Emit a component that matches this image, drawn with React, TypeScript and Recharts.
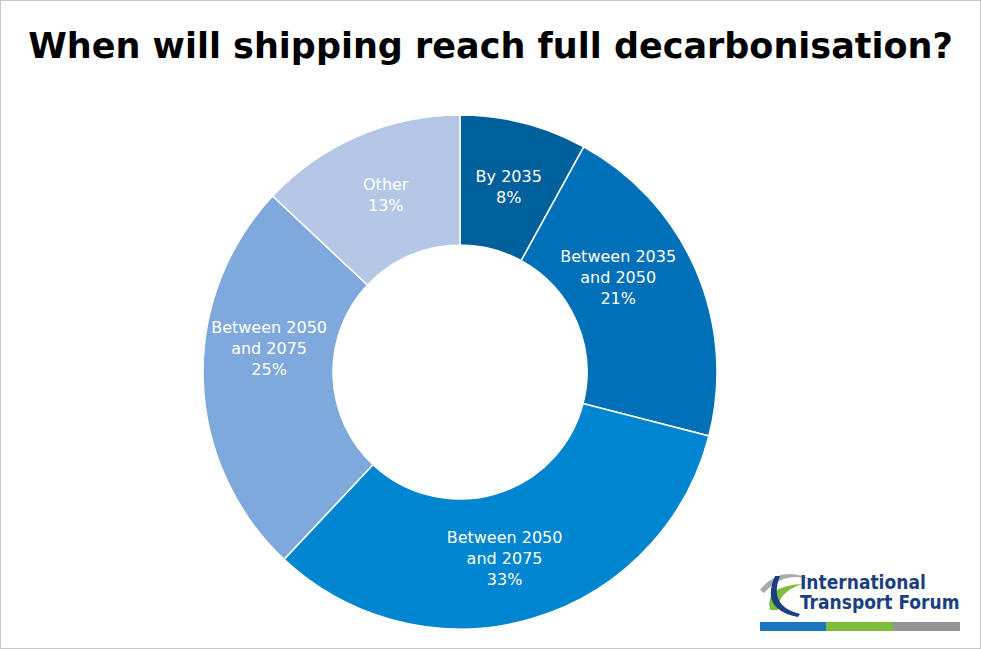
import { PieChart, Pie, Cell } from 'recharts'

const categories = ['By 2035', 'Between 2035 and 2050', 'Between 2050 and 2075', 'Between 2050 and 2075', 'Other']
const shares = [8, 21, 33, 25, 13]
const colors = ['#00609c', '#0070b8', '#0085d0', '#7fa9dc', '#b4c7e7']

const data = categories.map((name, i) => ({ name, value: shares[i] }))

// label nudges from the ring middle, in px
const labelShift = [
  [1, 0],
  [-18, -19],
  [-9, 2],
  [1, -30],
  [2, -1],
]

const FONT = '"DejaVu Sans", Verdana, sans-serif'

function SliceLabel(props: any) {
  const { cx, cy, midAngle, innerRadius, outerRadius, index } = props
  const r = (innerRadius + outerRadius) / 2
  const rad = (-midAngle * Math.PI) / 180
  const x = cx + r * Math.cos(rad) + labelShift[index][0]
  const y = cy + r * Math.sin(rad) + labelShift[index][1]
  const name: string = categories[index]
  const m = name.match(/^(Between \d+) (and \d+)$/)
  const lines = m ? [m[1], m[2], `${shares[index]}%`] : [name, `${shares[index]}%`]
  const lh = 21
  const y0 = y - ((lines.length - 1) * lh) / 2
  return (
    <text x={x} y={y0} fill="#fff" fontFamily={FONT} fontSize={16} textAnchor="middle" dominantBaseline="central">
      {lines.map((l, i) => (
        <tspan key={i} x={x} y={y0 + i * lh} dominantBaseline="central">
          {l}
        </tspan>
      ))}
    </text>
  )
}

function Logo() {
  const f = '"DejaVu Sans Condensed", "Liberation Sans Narrow", sans-serif'
  return (
    <svg width={220} height={80} style={{ position: 'absolute', left: 750, top: 560 }}>
      {/* emblem */}
      <path d="M10 30 Q30 4 62 20 Q34 10 14 33 Z" fill="#a7a9ac" />
      <path d="M20 50 Q14 26 52 24 Q28 32 28 50 Z" fill="#7cbd3c" />
      <path d="M30 16 Q18 46 50 54 L48 57 Q10 50 25 16 Z" fill="#1b3f7e" />
      <text x={50} y={29} fontFamily={f} fontWeight="bold" fontSize={19} fill="#1b3f7e">
        International
      </text>
      <text x={50} y={49} fontFamily={f} fontWeight="bold" fontSize={19} fill="#1b3f7e">
        Transport Forum
      </text>
      <rect x={10} y={62} width={66} height={9} fill="#1a75bc" />
      <rect x={76} y={62} width={67} height={9} fill="#7cbd3c" />
      <rect x={143} y={62} width={67} height={9} fill="#939598" />
    </svg>
  )
}

export default function App() {
  return (
    <div style={{ position: 'relative', width: 981, height: 649, background: '#fff' }}>
      <style>{'body{margin:0}'}</style>
      <div style={{ position: 'absolute', inset: 0, border: '1px solid #c8c8c8', boxSizing: 'border-box' }} />
      <div
        style={{
          position: 'absolute',
          top: 26,
          left: 0,
          width: 981,
          textAlign: 'center',
          fontFamily: FONT,
          fontWeight: 'bold',
          fontSize: 35,
          color: '#000',
          whiteSpace: 'nowrap',
        }}
      >
        When will shipping reach full decarbonisation?
      </div>
      <PieChart
        width={981}
        height={649}
        margin={{ top: 0, right: 0, bottom: 0, left: 0 }}
        style={{ position: 'absolute', left: 0, top: 0 }}
      >
        <Pie
          data={data}
          dataKey="value"
          nameKey="name"
          cx={460}
          cy={372}
          innerRadius={127}
          outerRadius={257}
          startAngle={90}
          endAngle={-270}
          stroke="#fff"
          strokeWidth={1.5}
          isAnimationActive={false}
          labelLine={false}
          label={SliceLabel}
        >
          {data.map((_, i) => (
            <Cell key={i} fill={colors[i]} />
          ))}
        </Pie>
      </PieChart>
      <Logo />
    </div>
  )
}
